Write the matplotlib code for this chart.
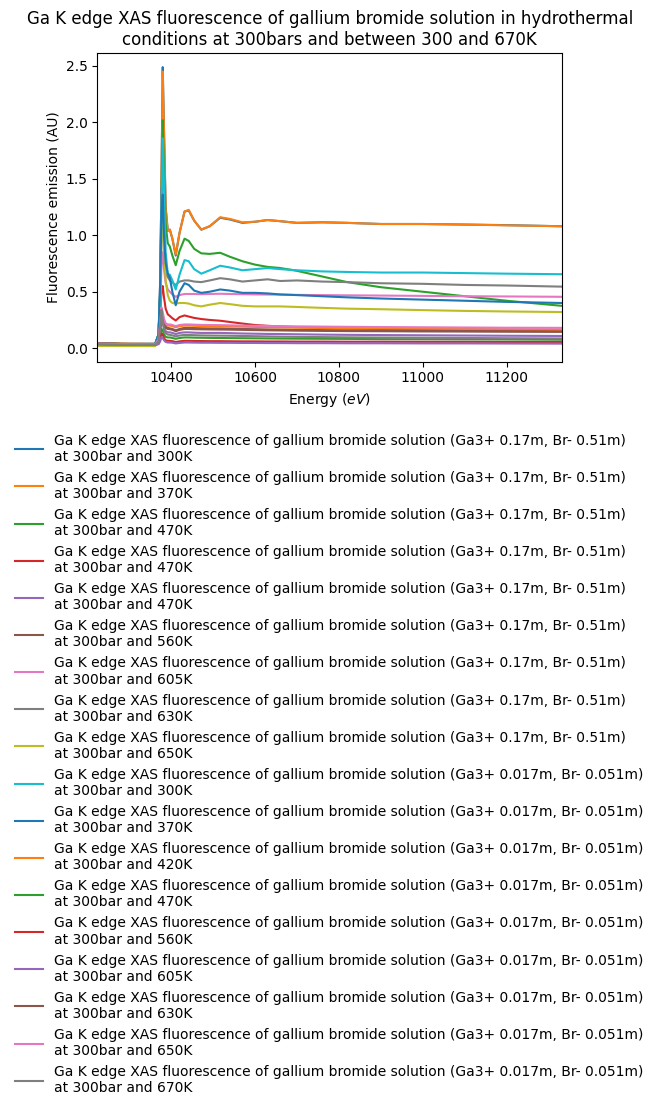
import matplotlib
matplotlib.use("Agg")
import matplotlib.pyplot as plt

energy = [10224, 10300, 10362, 10370, 10374, 10377, 10380, 10383, 10387, 10392, 10397,
          10403, 10411, 10420, 10432, 10442, 10455, 10472, 10492, 10517, 10540, 10570,
          10600, 10630, 10660, 10700, 10760, 10820, 10900, 11000, 11100, 11200, 11332]

s0 = [0.045, 0.04, 0.04, 0.12, 0.5, 1.5, 2.49, 1.95, 1.25, 1.04, 1.05, 0.97, 0.82, 1.02, 1.21, 1.22, 1.13, 1.05, 1.08, 1.155, 1.14, 1.11, 1.12, 1.135, 1.125, 1.11, 1.115, 1.11, 1.10, 1.10, 1.095, 1.09, 1.08]
s1 = [0.045, 0.04, 0.038, 0.12, 0.5, 1.5, 2.45, 1.92, 1.24, 1.04, 1.05, 0.97, 0.83, 1.02, 1.21, 1.225, 1.13, 1.05, 1.08, 1.16, 1.145, 1.115, 1.12, 1.135, 1.125, 1.11, 1.115, 1.11, 1.10, 1.10, 1.095, 1.088, 1.08]
s2 = [0.04, 0.035, 0.035, 0.12, 0.5, 1.3, 2.02, 1.6, 1.1, 0.93, 0.90, 0.82, 0.735, 0.86, 0.97, 0.95, 0.88, 0.84, 0.835, 0.845, 0.81, 0.77, 0.74, 0.72, 0.71, 0.685, 0.635, 0.585, 0.54, 0.50, 0.46, 0.42, 0.375]
s3 = [0.04, 0.035, 0.033, 0.1, 0.3, 0.5, 0.55, 0.45, 0.35, 0.3, 0.285, 0.265, 0.245, 0.275, 0.29, 0.28, 0.268, 0.258, 0.25, 0.243, 0.232, 0.218, 0.205, 0.198, 0.192, 0.186, 0.18, 0.175, 0.17, 0.165, 0.16, 0.155, 0.15]
s4 = [0.04, 0.035, 0.033, 0.06, 0.15, 0.24, 0.22, 0.18, 0.15, 0.14, 0.14, 0.135, 0.125, 0.135, 0.14, 0.14, 0.137, 0.135, 0.135, 0.135, 0.133, 0.13, 0.128, 0.126, 0.125, 0.123, 0.12, 0.118, 0.116, 0.114, 0.112, 0.11, 0.108]
s5 = [0.04, 0.035, 0.033, 0.07, 0.2, 0.32, 0.28, 0.22, 0.19, 0.18, 0.175, 0.17, 0.158, 0.17, 0.18, 0.18, 0.178, 0.176, 0.175, 0.175, 0.173, 0.17, 0.168, 0.166, 0.165, 0.163, 0.16, 0.158, 0.156, 0.154, 0.152, 0.15, 0.148]
s6 = [0.04, 0.035, 0.033, 0.1, 0.35, 0.75, 0.85, 0.7, 0.58, 0.52, 0.5, 0.475, 0.455, 0.47, 0.48, 0.48, 0.48, 0.478, 0.48, 0.482, 0.48, 0.478, 0.476, 0.475, 0.474, 0.472, 0.47, 0.468, 0.466, 0.463, 0.46, 0.458, 0.455]
s7 = [0.035, 0.03, 0.03, 0.12, 0.6, 1.42, 1.1, 0.82, 0.66, 0.63, 0.60, 0.58, 0.56, 0.59, 0.60, 0.60, 0.59, 0.585, 0.60, 0.62, 0.61, 0.59, 0.60, 0.61, 0.595, 0.60, 0.59, 0.585, 0.575, 0.57, 0.56, 0.555, 0.545]
s8 = [0.02, 0.018, 0.018, 0.08, 0.4, 1.0, 1.25, 0.9, 0.6, 0.47, 0.42, 0.40, 0.395, 0.40, 0.40, 0.395, 0.38, 0.37, 0.385, 0.40, 0.39, 0.375, 0.37, 0.37, 0.37, 0.365, 0.357, 0.35, 0.345, 0.337, 0.33, 0.325, 0.32]
s9 = [0.04, 0.035, 0.035, 0.12, 0.5, 1.2, 1.86, 1.45, 0.85, 0.66, 0.65, 0.6, 0.52, 0.65, 0.78, 0.77, 0.70, 0.66, 0.69, 0.73, 0.715, 0.69, 0.70, 0.71, 0.70, 0.69, 0.68, 0.675, 0.67, 0.67, 0.665, 0.66, 0.655]
s10 = [0.04, 0.035, 0.033, 0.12, 0.6, 1.2, 1.36, 1.0, 0.75, 0.66, 0.62, 0.5, 0.38, 0.5, 0.575, 0.56, 0.51, 0.49, 0.50, 0.52, 0.51, 0.49, 0.49, 0.485, 0.476, 0.47, 0.46, 0.45, 0.44, 0.43, 0.42, 0.41, 0.40]
s11 = [0.04, 0.035, 0.033, 0.07, 0.2, 0.33, 0.3, 0.24, 0.21, 0.2, 0.2, 0.195, 0.185, 0.195, 0.2, 0.2, 0.198, 0.196, 0.195, 0.194, 0.192, 0.19, 0.188, 0.186, 0.184, 0.182, 0.18, 0.178, 0.176, 0.173, 0.17, 0.168, 0.165]
s12 = [0.04, 0.035, 0.033, 0.05, 0.1, 0.17, 0.16, 0.12, 0.1, 0.095, 0.095, 0.09, 0.083, 0.09, 0.095, 0.095, 0.093, 0.092, 0.091, 0.09, 0.089, 0.088, 0.087, 0.086, 0.085, 0.084, 0.083, 0.082, 0.08, 0.079, 0.078, 0.077, 0.075]
s13 = [0.035, 0.03, 0.028, 0.04, 0.08, 0.13, 0.12, 0.09, 0.07, 0.065, 0.065, 0.062, 0.055, 0.06, 0.065, 0.065, 0.064, 0.063, 0.062, 0.062, 0.061, 0.06, 0.06, 0.059, 0.059, 0.058, 0.058, 0.057, 0.057, 0.056, 0.056, 0.055, 0.055]
s14 = [0.035, 0.03, 0.028, 0.035, 0.06, 0.1, 0.09, 0.07, 0.055, 0.05, 0.05, 0.048, 0.042, 0.046, 0.05, 0.05, 0.049, 0.048, 0.048, 0.047, 0.047, 0.046, 0.046, 0.045, 0.045, 0.044, 0.044, 0.043, 0.043, 0.042, 0.042, 0.041, 0.04]
s15 = [0.04, 0.035, 0.033, 0.07, 0.18, 0.3, 0.27, 0.21, 0.18, 0.17, 0.168, 0.163, 0.15, 0.162, 0.17, 0.17, 0.168, 0.167, 0.166, 0.165, 0.164, 0.162, 0.16, 0.158, 0.157, 0.155, 0.153, 0.151, 0.15, 0.148, 0.147, 0.146, 0.145]
s16 = [0.04, 0.035, 0.033, 0.08, 0.22, 0.36, 0.32, 0.26, 0.22, 0.21, 0.21, 0.205, 0.195, 0.205, 0.21, 0.21, 0.208, 0.206, 0.205, 0.204, 0.202, 0.2, 0.198, 0.196, 0.195, 0.193, 0.191, 0.189, 0.187, 0.185, 0.183, 0.181, 0.18]
s17 = [0.035, 0.03, 0.028, 0.06, 0.2, 0.34, 0.25, 0.16, 0.13, 0.12, 0.118, 0.113, 0.105, 0.112, 0.117, 0.117, 0.115, 0.113, 0.112, 0.111, 0.11, 0.108, 0.106, 0.104, 0.102, 0.1, 0.098, 0.096, 0.094, 0.092, 0.09, 0.088, 0.086]

series = [s0, s1, s2, s3, s4, s5, s6, s7, s8, s9, s10, s11, s12, s13, s14, s15, s16, s17]

ga_conc = ["0.17m"] * 9 + ["0.017m"] * 9
br_conc = ["0.51m"] * 9 + ["0.051m"] * 9
temps = ["300K", "370K", "470K", "470K", "470K", "560K", "605K", "630K", "650K",
         "300K", "370K", "420K", "470K", "560K", "605K", "630K", "650K", "670K"]

labels = [f"Ga K edge XAS fluorescence of gallium bromide solution (Ga3+ {g}, Br- {b})\nat 300bar and {t}"
          for g, b, t in zip(ga_conc, br_conc, temps)]

fig = plt.figure(figsize=(6.59, 11.12), dpi=100)
W, H = 659, 1112
ax = fig.add_axes([97.3 / W, 1 - 361.7 / H, (562 - 97.3) / W, (361.7 - 53) / H])

for ys, lab in zip(series, labels):
    ax.plot(energy, ys, label=lab)

ax.set_xlim(10224, 11332)
ax.set_ylim(-0.12, 2.615)
ax.set_xlabel("Energy ($eV$)")
ax.set_ylabel("Fluorescence emission (AU)")
ax.set_title("Ga K edge XAS fluorescence of gallium bromide solution in hydrothermal\n"
             "conditions at 300bars and between 300 and 670K")

handles, labs = ax.get_legend_handles_labels()
fig.legend(handles, labs, loc="upper left", bbox_to_anchor=(9.4 / W, 1 - 428 / H),
           bbox_transform=fig.transFigure, frameon=False, borderaxespad=0)

fig.savefig("out.png", dpi=100)
